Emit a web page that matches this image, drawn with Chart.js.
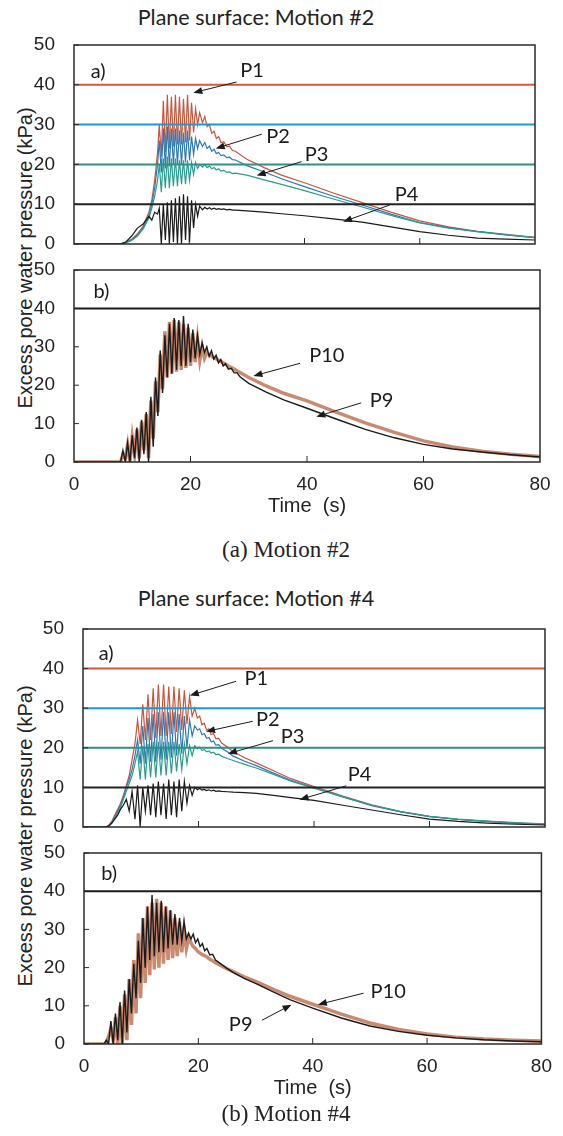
<!DOCTYPE html>
<html>
<head>
<meta charset="utf-8">
<script src="https://cdn.jsdelivr.net/npm/chart.js@4.4.0/dist/chart.umd.min.js"></script>
<style>
  body { margin: 0; background: #fff; width: 563px; height: 1136px; position: relative; overflow: hidden; }
  .panel { position: absolute; left: 0; }
  .titulo { position: absolute; font-family: Lato, "Open Sans", sans-serif; font-size: 21.5px; color: #222;
            transform: translate(-50%, -50%); white-space: nowrap; }
  .pie { position: absolute; font-family: "Liberation Serif", serif; font-size: 23px; color: #222;
         transform: translate(-50%, -50%); white-space: nowrap; }
  .eje-y { position: absolute; font-family: "Liberation Sans", Arial, sans-serif; font-size: 20px; color: #222;
           line-height: 1; transform: translate(-50%, -50%) rotate(-90deg); white-space: nowrap; }
</style>
</head>
<body>

<div class="titulo" style="left:256px; top:17px;">Plane surface: Motion #2</div>
<div class="eje-y" style="left:25px; top:258px;">Excess pore water pressure (kPa)</div>
<canvas id="m2a" class="panel" width="563" height="225" style="top:33px;"></canvas>
<canvas id="m2b" class="panel" width="563" height="266" style="top:258px;"></canvas>
<div class="pie" style="left:286px; top:550px;">(a) Motion #2</div>

<div class="titulo" style="left:256px; top:598px;">Plane surface: Motion #4</div>
<div class="eje-y" style="left:25px; top:836px;">Excess pore water pressure (kPa)</div>
<canvas id="m4a" class="panel" width="563" height="224" style="top:617px;"></canvas>
<canvas id="m4b" class="panel" width="563" height="265" style="top:841px;"></canvas>
<div class="pie" style="left:286px; top:1114px;">(b) Motion #4</div>

<script>
// ---- datos ----
const ticksY = [0, 10, 20, 30, 40, 50];
const ticksX = [0, 20, 40, 60, 80];
const nivelesA = [40, 30, 20, 10];   // lineas horizontales de referencia, paneles a)
const nivelesB = [40];               // panel b)

// Motion #2, panel a)
const tiempoM2a = [0, 8, 9, 10, 11, 12, 13, 13.5, 14, 14.5,
  14.8, 15.15, 15.5, 15.85, 16.2, 16.55, 16.9, 17.25, 17.6, 17.95, 18.3, 18.65, 19.0, 19.35, 19.7, 20.05, 20.4, 20.75, 21.1, 21.45, 21.8,
  22.3, 22.7, 23.1, 23.5, 23.9, 24.3, 24.7, 25.1, 25.5, 26, 26.5, 27, 27.5, 28,
  30, 33, 36, 40, 45, 50, 55, 60, 65, 70, 75, 80];
const p1M2 = [0, 0, 0.5, 1.2, 2.5, 4.5, 8, 11, 16, 23,
  30, 22, 36, 23, 37.5, 24, 37, 24.5, 37.5, 25, 37, 25, 36.5, 25.5, 37.5, 26, 35.5, 28, 34, 30, 33,
  30.5, 32, 29.5, 30, 27.8, 28.3, 26.5, 27, 25.5, 25.7, 24.5, 24.6, 23.5, 23.3,
  21.3, 19.2, 17.3, 15.4, 12.8, 10.4, 8.0, 5.8, 4.3, 3.2, 2.4, 1.7];
const p2M2 = [0, 0, 0.4, 1.0, 2.2, 4.0, 7, 10, 14, 20,
  26, 18, 29, 19, 29.5, 19.5, 29, 20, 29, 20, 28.5, 20, 28, 20.5, 28.5, 21, 27, 22.5, 26.5, 24, 26,
  24.5, 25.5, 24, 24.6, 23.3, 23.8, 22.7, 23, 22.2, 22.4, 21.7, 21.8, 21.2, 21.1,
  19.7, 18.1, 16.4, 14.4, 12, 9.8, 7.5, 5.4, 4.1, 3.1, 2.3, 1.6];
const p3M2 = [0, 0, 0.3, 0.9, 2.0, 3.8, 6.5, 9, 12, 16,
  20, 13, 21.5, 14, 22, 14, 21.5, 14.5, 21.5, 14.5, 21, 15, 21, 15, 21, 16, 20.5, 17.5, 20.5, 19, 20,
  19.3, 20, 19.2, 19.6, 18.9, 19.2, 18.6, 18.9, 18.3, 18.5, 18, 18.1, 17.7, 17.8,
  17.3, 16.1, 15, 13.4, 11.3, 9.3, 7.2, 5.3, 4.0, 3.1, 2.3, 1.6];
const p4M2 = [0, 0, 0.5, 2, 4, 5, 7, 6, 8, 7.5,
  9, 0, 10, 1, 10.5, 0, 11, 0.5, 11.5, 0, 12, 0, 12.5, 1, 12, 0.5, 11, 4, 10, 7, 9.5,
  8.6, 9.2, 8.8, 9.1, 8.7, 9, 8.7, 8.9, 8.7, 8.8, 8.6, 8.7, 8.5, 8.5,
  8.3, 8, 7.6, 7.1, 6.3, 5.5, 4.3, 3.1, 2.2, 1.5, 1.2, 1.0];

// Motion #2, panel b)
const tiempoM2b = [0, 7.6,
  8.0, 8.4, 8.8, 9.2, 9.6, 10.0, 10.4, 10.8, 11.2, 11.6, 12.0, 12.4, 12.8, 13.2, 13.6, 14.0, 14.4, 14.8, 15.2,
  15.6, 16.0, 16.4, 16.8, 17.2, 17.6, 18.0, 18.4, 18.8, 19.2, 19.6, 20.0, 20.4, 20.8, 21.2, 21.6, 22.0, 22.4, 22.8,
  23.2, 23.6, 24.0, 24.4, 24.8, 25.2, 25.6, 26.0, 26.5, 27.0, 27.5, 28.0, 28.5,
  30, 33, 36, 40, 45, 50, 55, 60, 65, 70, 75, 80];
const p9M2 = [0, 0,
  0, 3, 0, 5, 0, 7, 1, 9, 0, 11, 2, 13, 0, 17, 4, 22, 12, 29, 18,
  33, 22, 36, 23, 37.5, 24, 37, 25, 38, 25, 36, 26, 34.5, 27, 33, 28, 31, 28.5, 30,
  27.5, 29, 26.8, 27.8, 25.8, 26.7, 25, 25.6, 24.2, 24.4, 23.2, 23.2, 22.2,
  20.5, 18.2, 16.2, 14, 11.2, 8.5, 6.3, 4.6, 3.4, 2.6, 1.9, 1.3];
const p10M2 = [0, 0,
  0, 2, 1, 4.5, 0, 6.5, 2, 8.5, 1, 10.5, 3, 12.5, 1, 16, 6, 21, 13, 28, 19,
  34, 22, 36.5, 23, 37, 23.5, 36.5, 24, 36, 24.5, 35, 25, 33.5, 26, 32, 26.5, 30, 27, 28.5,
  28, 27.6, 27.2, 26.9, 26.5, 26.2, 25.8, 25.5, 25.0, 24.6, 24.2, 23.7, 23.3,
  22, 19.8, 17.9, 15.9, 13, 10.2, 7.7, 5.5, 3.9, 2.8, 2.0, 1.4];

// Motion #4, panel a)
const tiempoM4a = [0, 4, 4.5, 5, 5.5, 6, 6.5, 7, 7.5, 8, 8.5, 9.0,
  9.45, 9.9, 10.35, 10.8, 11.25, 11.7, 12.15, 12.6, 13.05, 13.5, 13.95, 14.4, 14.85, 15.3, 15.75, 16.2, 16.65, 17.1, 17.55, 18.0, 18.45, 18.9, 19.35,
  19.8, 20.2, 20.6, 21, 21.4, 21.8, 22.2, 22.6, 23, 23.5, 24, 25, 26, 28,
  30, 33, 36, 40, 45, 50, 55, 60, 65, 70, 75, 80];
const p1M4 = [0, 0, 0.5, 1.5, 3, 4.5, 6, 8, 10.5, 13, 17, 21,
  27, 21, 31, 22, 33.5, 22, 35, 22.5, 36, 23, 36, 23, 35.5, 23.5, 35.5, 24, 35, 24.5, 34.5, 26, 33, 28, 30,
  27.5, 28, 25.8, 26.2, 24.5, 24.8, 23.3, 23.6, 22.3, 22.4, 21.2, 20.2, 19, 17.5,
  16.2, 14.2, 12.2, 10.2, 7.8, 5.6, 3.9, 2.7, 1.9, 1.4, 1.0, 0.7];
const p2M4 = [0, 0, 0.4, 1.2, 2.5, 4, 5.5, 7.5, 10, 12, 14.5, 18,
  22, 16, 25.5, 16, 27.5, 16.5, 28.5, 16.5, 29, 17, 29, 17, 29, 17.5, 29, 18, 28.5, 18.5, 28, 20, 27, 23, 25.5,
  24.5, 24.8, 23.3, 23.6, 22.4, 22.6, 21.5, 21.7, 20.7, 20.8, 19.9, 19, 17.9, 16.6,
  15.5, 13.6, 11.8, 9.9, 7.6, 5.4, 3.8, 2.6, 1.9, 1.4, 1.0, 0.7];
const p3M4 = [0, 0, 0.3, 1, 2.2, 3.6, 5, 7, 9, 11, 13, 16,
  19, 12, 20.5, 12, 21, 12.5, 21.5, 12.5, 21.5, 13, 21.5, 13, 21.5, 13.5, 21.5, 14, 21, 14.5, 21, 16, 20.5, 18, 20.5,
  19.8, 20.2, 19.3, 19.6, 19, 19.2, 18.7, 18.9, 18.3, 18.4, 17.9, 17.3, 16.8, 15.8,
  14.9, 13.3, 11.6, 9.8, 7.6, 5.5, 3.9, 2.7, 2.0, 1.5, 1.1, 0.8];
const p4M4 = [0, 0, 0.3, 1, 2, 3, 4.5, 5.5, 7, 4, 9, 2,
  10.5, 0, 10, 4, 10.5, 3, 11, 2.5, 11.5, 3, 11, 2, 12, 3, 11.5, 2.5, 12, 4, 11.5, 6, 10.5, 8, 10,
  9.4, 9.8, 9.3, 9.5, 9.2, 9.4, 9.1, 9.3, 9.0, 9.1, 9.0, 8.9, 8.8, 8.7,
  8.5, 8, 7.4, 6.7, 5.5, 4.3, 3.1, 2.0, 1.4, 1.0, 0.7, 0.5];

// Motion #4, panel b)
const tiempoM4b = [0, 3.5,
  3.9, 4.3, 4.7, 5.1, 5.5, 5.9, 6.3, 6.7, 7.1, 7.5, 7.9, 8.3, 8.7, 9.1, 9.5, 9.9, 10.3, 10.7, 11.1,
  11.5, 11.9, 12.3, 12.7, 13.1, 13.5, 13.9, 14.3, 14.7, 15.1, 15.5, 15.9, 16.3, 16.7, 17.1, 17.5, 17.9, 18.3,
  18.7, 19.1, 19.5, 19.9, 20.3, 20.7, 21.1, 21.5, 22, 22.5, 23, 24, 25, 26,
  28, 30, 33, 36, 40, 45, 50, 55, 60, 65, 70, 75, 80];
const p9M4 = [0, 0,
  1, 0, 6, 0, 8, 1, 11, 0, 14, 3, 17, 8, 21, 12, 27, 16, 33, 20, 36,
  22, 39, 23, 37, 24, 37.5, 24, 36, 25, 35, 26, 34, 26, 33, 27, 32, 27.5, 29,
  27.5, 28.8, 26.5, 27.5, 25.5, 26.3, 24.4, 25, 23.3, 23.5, 22, 20.9, 19.8, 18.8,
  17.2, 15.9, 13.7, 11.6, 9.4, 6.8, 4.7, 3.3, 2.3, 1.6, 1.1, 0.8, 0.6];
const p10M4 = [0, 0,
  0.5, 2, 4, 1, 7, 0, 10, 0, 13, 1, 17, 5, 22, 8, 29, 12, 33, 16, 36,
  18, 37, 19.5, 38, 20, 37, 21, 36, 22, 35, 22.5, 33, 23, 32, 24, 30, 25, 28,
  26.5, 25.5, 25, 24.2, 23.8, 23.4, 23.1, 22.8, 22.2, 21.8, 21.3, 20.5, 19.7, 19,
  17.6, 16.4, 14.4, 12.5, 10.4, 7.8, 5.5, 3.8, 2.6, 1.8, 1.3, 1.0, 0.8];

// ---- colores ----
const colorRef = { 40: '#d4583b', 30: '#1a98d5', 20: '#2a9184', 10: '#222222' };
const colorP1 = '#c9553c';
const colorP2 = '#2e78b7';
const colorP3 = '#2a9d8e';
const colorNegro = '#1a1a1a';
const colorP10 = '#c98a6f';
const fuenteEjes = "'Liberation Sans', Arial, sans-serif";
const fuenteNotas = "Lato, 'Open Sans', sans-serif";

function puntos(tiempo, valores) {
  return tiempo.map((t, i) => ({ x: t, y: valores[i] }));
}

function serie(tiempo, valores, color, ancho) {
  return { data: puntos(tiempo, valores), borderColor: color, borderWidth: ancho,
           pointRadius: 0, tension: 0, fill: false };
}

function lineasRef(niveles, colorUnico) {
  return niveles.map(n => ({
    data: [{ x: 0, y: n }, { x: 80, y: n }],
    borderColor: colorUnico || colorRef[n], borderWidth: 2, pointRadius: 0, fill: false
  }));
}

// marco, marcas hacia dentro y anotaciones con flecha
const marcoPlugin = {
  id: 'marco',
  afterDatasetsDraw(chart) {
    const { ctx, chartArea: a, scales: { x, y } } = chart;
    const notas = chart.options.plugins.marco.notas || [];
    ctx.save();
    ctx.strokeStyle = '#2a2a2a';
    ctx.lineWidth = 1.5;
    ctx.strokeRect(a.left, a.top, a.width, a.height);
    ctx.lineWidth = 1;
    ticksY.forEach(v => {
      const py = y.getPixelForValue(v);
      ctx.beginPath(); ctx.moveTo(a.left, py); ctx.lineTo(a.left + 5, py); ctx.stroke();
    });
    ticksX.slice(1, -1).forEach(v => {
      const px = x.getPixelForValue(v);
      ctx.beginPath(); ctx.moveTo(px, a.bottom); ctx.lineTo(px, a.bottom - 6); ctx.stroke();
    });

    ctx.fillStyle = '#1a1a1a';
    ctx.font = '20px ' + fuenteNotas;
    ctx.textAlign = 'center';
    ctx.textBaseline = 'middle';
    notas.forEach(n => {
      ctx.fillText(n.texto, x.getPixelForValue(n.pos[0]), y.getPixelForValue(n.pos[1]));
      if (!n.desde) return;
      const x1 = x.getPixelForValue(n.desde[0]), y1 = y.getPixelForValue(n.desde[1]);
      const x2 = x.getPixelForValue(n.hasta[0]), y2 = y.getPixelForValue(n.hasta[1]);
      const ang = Math.atan2(y2 - y1, x2 - x1);
      ctx.lineWidth = 1;
      ctx.strokeStyle = '#1a1a1a';
      ctx.beginPath(); ctx.moveTo(x1, y1); ctx.lineTo(x2 - 6 * Math.cos(ang), y2 - 6 * Math.sin(ang)); ctx.stroke();
      ctx.beginPath();
      ctx.moveTo(x2, y2);
      ctx.lineTo(x2 - 9 * Math.cos(ang) + 3.5 * Math.sin(ang), y2 - 9 * Math.sin(ang) - 3.5 * Math.cos(ang));
      ctx.lineTo(x2 - 9 * Math.cos(ang) - 3.5 * Math.sin(ang), y2 - 9 * Math.sin(ang) + 3.5 * Math.cos(ang));
      ctx.closePath();
      ctx.fill();
    });
    ctx.restore();
  }
};

function crearGrafica(id, datasets, cfg) {
  const ctx = document.getElementById(id).getContext('2d');
  return new Chart(ctx, {
    type: 'line',
    data: { datasets: datasets },
    plugins: [marcoPlugin],
    options: {
      responsive: false,
      animation: false,
      layout: { padding: { top: 12, right: cfg.derecha, bottom: 2, left: 0 } },
      plugins: { legend: { display: false }, tooltip: { enabled: false }, marco: { notas: cfg.notas } },
      scales: {
        x: {
          type: 'linear', min: 0, max: 80,
          grid: { display: false, drawTicks: false },
          border: { display: false },
          ticks: { display: cfg.conEjeX, stepSize: 20, padding: 11, color: '#222', font: { size: 19, family: fuenteEjes } },
          title: { display: cfg.conEjeX, text: 'Time  (s)', color: '#222', padding: { top: 2, bottom: 4 },
                   font: { size: 20, family: fuenteEjes } },
          afterFit(scale) { scale.height = cfg.conEjeX ? 60 : 12; }
        },
        y: {
          min: 0, max: 50,
          grid: { display: false, drawTicks: false },
          border: { display: false },
          ticks: { stepSize: 10, padding: 19, color: '#222', font: { size: 19, family: fuenteEjes } },
          afterFit(scale) {
            scale.width = cfg.izquierda;
            scale.paddingTop = 12;
            scale.paddingBottom = 12;
          }
        }
      }
    }
  });
}

// Motion #2
crearGrafica('m2a', [
  ...lineasRef(nivelesA),
  serie(tiempoM2a, p4M2, colorNegro, 1.2),
  serie(tiempoM2a, p3M2, colorP3, 1.2),
  serie(tiempoM2a, p2M2, colorP2, 1.2),
  serie(tiempoM2a, p1M2, colorP1, 1.2)
], {
  izquierda: 74, derecha: 28, conEjeX: false,
  notas: [
    { texto: 'a)', pos: [4.2, 43.3] },
    { texto: 'P1', pos: [30.9, 43.7], desde: [28.2, 40.7], hasta: [20.7, 38.0] },
    { texto: 'P2', pos: [35.4, 27.1], desde: [32.6, 27.6], hasta: [24.6, 24.0] },
    { texto: 'P3', pos: [42.1, 22.6], desde: [39.5, 20.7], hasta: [31.7, 17.2] },
    { texto: 'P4', pos: [57.7, 12.3], desde: [54.8, 9.8], hasta: [46.7, 5.6] }
  ]
});

crearGrafica('m2b', [
  ...lineasRef(nivelesB, colorNegro),
  serie(tiempoM2b, p9M2, colorNegro, 1.4),
  serie(tiempoM2b, p10M2, colorP10, 3.5)
], {
  izquierda: 74, derecha: 23, conEjeX: true,
  notas: [
    { texto: 'b)', pos: [4.7, 44.3] },
    { texto: 'P10', pos: [43.4, 27.6], desde: [38.8, 25.7], hasta: [30.8, 22.4] },
    { texto: 'P9', pos: [52.8, 16.1], desde: [49.3, 15.4], hasta: [41.6, 11.8] }
  ]
});

// Motion #4
crearGrafica('m4a', [
  ...lineasRef(nivelesA),
  serie(tiempoM4a, p4M4, colorNegro, 1.2),
  serie(tiempoM4a, p3M4, colorP3, 1.2),
  serie(tiempoM4a, p2M4, colorP2, 1.2),
  serie(tiempoM4a, p1M4, colorP1, 1.2)
], {
  izquierda: 83, derecha: 18, conEjeX: false,
  notas: [
    { texto: 'a)', pos: [4.0, 43.9] },
    { texto: 'P1', pos: [30.0, 37.6], desde: [26.5, 36.8], hasta: [18.5, 33.2] },
    { texto: 'P2', pos: [32.0, 27.1], desde: [29.4, 26.7], hasta: [21.3, 24.1] },
    { texto: 'P3', pos: [36.3, 22.9], desde: [32.9, 21.8], hasta: [25.1, 18.5] },
    { texto: 'P4', pos: [47.9, 13.2], desde: [45.6, 10.4], hasta: [37.5, 6.9] }
  ]
});

crearGrafica('m4b', [
  ...lineasRef(nivelesB, colorNegro),
  serie(tiempoM4b, p9M4, colorNegro, 1.4),
  serie(tiempoM4b, p10M4, colorP10, 3.5)
], {
  izquierda: 84, derecha: 14, conEjeX: true,
  notas: [
    { texto: 'b)', pos: [4.4, 44.6] },
    { texto: 'P10', pos: [53.2, 13.7], desde: [48.9, 13.3], hasta: [40.9, 10.3] },
    { texto: 'P9', pos: [27.4, 5.0], desde: [31.1, 6.2], hasta: [36.3, 10.3] }
  ]
});
</script>
</body>
</html>
